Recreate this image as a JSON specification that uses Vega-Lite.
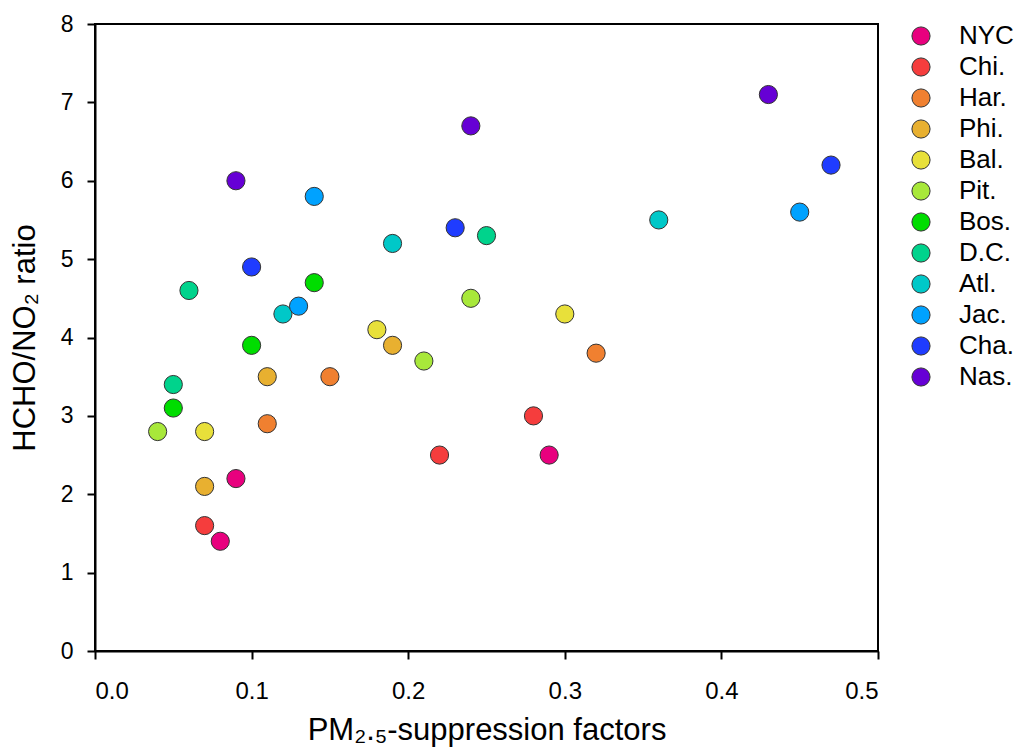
{
  "$schema": "https://vega.github.io/schema/vega-lite/v6.json",
  "width": 783,
  "height": 627,
  "autosize": "none",
  "padding": {"left": 95, "top": 24, "right": 148, "bottom": 100},
  "background": "white",
  "config": {
    "view": {"stroke": "black", "strokeWidth": 2},
    "font": "Liberation Sans"
  },
  "data": {
    "values": [
      {"city": "NYC", "x": 0.09, "y": 2.2},
      {"city": "NYC", "x": 0.08, "y": 1.4},
      {"city": "NYC", "x": 0.29, "y": 2.5},
      {"city": "Chi.", "x": 0.07, "y": 1.6},
      {"city": "Chi.", "x": 0.22, "y": 2.5},
      {"city": "Chi.", "x": 0.28, "y": 3.0},
      {"city": "Har.", "x": 0.11, "y": 2.9},
      {"city": "Har.", "x": 0.15, "y": 3.5},
      {"city": "Har.", "x": 0.32, "y": 3.8},
      {"city": "Phi.", "x": 0.07, "y": 2.1},
      {"city": "Phi.", "x": 0.11, "y": 3.5},
      {"city": "Phi.", "x": 0.19, "y": 3.9},
      {"city": "Bal.", "x": 0.07, "y": 2.8},
      {"city": "Bal.", "x": 0.18, "y": 4.1},
      {"city": "Bal.", "x": 0.30, "y": 4.3},
      {"city": "Pit.", "x": 0.04, "y": 2.8},
      {"city": "Pit.", "x": 0.21, "y": 3.7},
      {"city": "Pit.", "x": 0.24, "y": 4.5},
      {"city": "Bos.", "x": 0.05, "y": 3.1},
      {"city": "Bos.", "x": 0.10, "y": 3.9},
      {"city": "Bos.", "x": 0.14, "y": 4.7},
      {"city": "D.C.", "x": 0.05, "y": 3.4},
      {"city": "D.C.", "x": 0.06, "y": 4.6},
      {"city": "D.C.", "x": 0.25, "y": 5.3},
      {"city": "Atl.", "x": 0.12, "y": 4.3},
      {"city": "Atl.", "x": 0.19, "y": 5.2},
      {"city": "Atl.", "x": 0.36, "y": 5.5},
      {"city": "Jac.", "x": 0.13, "y": 4.4},
      {"city": "Jac.", "x": 0.14, "y": 5.8},
      {"city": "Jac.", "x": 0.45, "y": 5.6},
      {"city": "Cha.", "x": 0.10, "y": 4.9},
      {"city": "Cha.", "x": 0.23, "y": 5.4},
      {"city": "Cha.", "x": 0.47, "y": 6.2},
      {"city": "Nas.", "x": 0.09, "y": 6.0},
      {"city": "Nas.", "x": 0.24, "y": 6.7},
      {"city": "Nas.", "x": 0.43, "y": 7.1}
    ]
  },
  "mark": {"type": "circle", "size": 330, "opacity": 1, "stroke": "#333333", "strokeWidth": 1},
  "encoding": {
    "x": {
      "field": "x", "type": "quantitative",
      "scale": {"domain": [0, 0.5], "nice": false},
      "axis": {
        "title": "PM₂.₅-suppression factors",
        "values": [0, 0.1, 0.2, 0.3, 0.4, 0.5],
        "format": ".1f",
        "grid": false,
        "domainColor": "black", "domainWidth": 2,
        "tickColor": "black", "tickWidth": 2, "tickSize": 8,
        "labelFontSize": 24, "labelColor": "black", "labelPadding": 20,
        "titleFontSize": 31, "titleFontWeight": "normal", "titleColor": "black", "titlePadding": 12
      }
    },
    "y": {
      "field": "y", "type": "quantitative",
      "scale": {"domain": [0, 8], "nice": false},
      "axis": {
        "title": "HCHO/NO₂ ratio",
        "values": [0, 1, 2, 3, 4, 5, 6, 7, 8],
        "grid": false,
        "domainColor": "black", "domainWidth": 2,
        "tickColor": "black", "tickWidth": 2, "tickSize": 8,
        "labelFontSize": 23, "labelColor": "black", "labelPadding": 14,
        "titleFontSize": 31, "titleFontWeight": "normal", "titleColor": "black", "titlePadding": 19
      }
    },
    "color": {
      "field": "city", "type": "nominal",
      "scale": {
        "domain": ["NYC", "Chi.", "Har.", "Phi.", "Bal.", "Pit.", "Bos.", "D.C.", "Atl.", "Jac.", "Cha.", "Nas."],
        "range": ["#e8007e", "#f53d3d", "#f08030", "#e8b030", "#e8e03a", "#a8e83a", "#00dd00", "#00d38c", "#00c8c8", "#00a2ff", "#1f3cff", "#6600d5"]
      },
      "legend": {
        "title": null,
        "orient": "none",
        "legendX": 813,
        "legendY": -1,
        "padding": 0,
        "symbolType": "circle",
        "symbolSize": 330,
        "symbolStrokeColor": "#333333",
        "symbolStrokeWidth": 1,
        "symbolOpacity": 1,
        "labelFontSize": 26,
        "labelColor": "black",
        "labelOffset": 25,
        "rowPadding": 5
      }
    }
  }
}
